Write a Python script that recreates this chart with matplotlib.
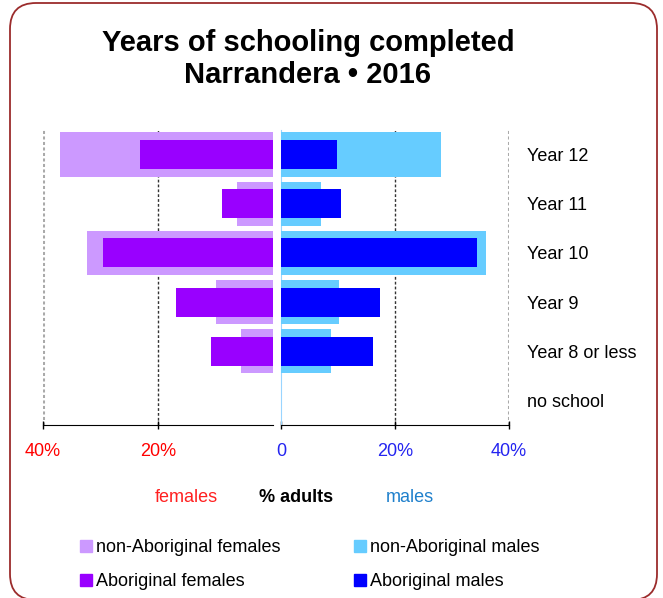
import matplotlib.pyplot as plt
from matplotlib.patches import FancyBboxPatch
from matplotlib.lines import Line2D
from matplotlib.transforms import IdentityTransform

plt.rcParams['font.family'] = ['Liberation Sans', 'DejaVu Sans']

levels = ['Year 12', 'Year 11', 'Year 10', 'Year 9', 'Year 8 or less', 'no school']
# percent of adults
nonab_females = [37.1, 6.3, 32.3, 10.0, 5.6, 0.0]
ab_females = [23.2, 8.9, 29.5, 16.9, 10.7, 0.0]
nonab_males = [28.1, 7.1, 36.0, 10.2, 8.7, 0.0]
ab_males = [9.9, 10.5, 34.4, 17.4, 16.2, 0.0]
ticks = [0, 20, 40]
tick_labels = ['0', '20%', '40%']

c_nf = '#cc99ff'
c_af = '#9900ff'
c_nm = '#66ccff'
c_am = '#0000ff'

W, H = 663, 598
fig = plt.figure(figsize=(W / 100, H / 100), dpi=100)

# rounded frame around the whole chart, in pixels
frame = FancyBboxPatch((10, -2), 647, H - 3 + 2,
                       boxstyle='round,pad=0,rounding_size=26',
                       transform=IdentityTransform(), fill=False,
                       edgecolor='#9b2c2c', lw=1.3)
fig.add_artist(frame)

bottom = (H - 425) / H
height = 295 / H
ax_f = fig.add_axes([43 / W, bottom, 230 / W, height])
ax_m = fig.add_axes([281 / W, bottom, 228 / W, height])

y = list(range(len(levels)))

ax_f.barh(y, [-v for v in nonab_females], height=0.9, color=c_nf, lw=0, zorder=3)
ax_f.barh(y, [-v for v in ab_females], height=0.59, color=c_af, lw=0, zorder=4)
ax_m.barh(y, nonab_males, height=0.9, color=c_nm, lw=0, zorder=3)
ax_m.barh(y, ab_males, height=0.59, color=c_am, lw=0, zorder=4)

for ax, sign in ((ax_f, -1), (ax_m, 1)):
    ax.set_ylim(len(levels) - 0.5, -0.5)
    ax.axvline(sign * 20, color='#333333', lw=1, ls=(0, (2, 1.5)), zorder=1)
    ax.axvline(sign * 40, color='#aaaaaa', lw=2.2, ls=(0, (1, 0.8)), zorder=1)
    ax.spines['top'].set_visible(False)
    ax.spines['bottom'].set_color('black')
    ax.tick_params(axis='x', direction='inout', length=6, width=1,
                   labelsize=13, pad=10)
    ax.tick_params(axis='y', length=0)

ax_f.set_xlim(-40, 0)
ax_f.set_xticks([-40, -20])
ax_f.set_xticklabels(['40%', '20%'])
ax_f.tick_params(axis='x', labelcolor='#ff0000')
ax_f.spines['left'].set_visible(False)
ax_f.spines['right'].set_visible(False)
ax_f.set_yticks([])

ax_m.set_xlim(0, 40)
ax_m.set_xticks(ticks)
ax_m.set_xticklabels(tick_labels)
ax_m.tick_params(axis='x', labelcolor='#2424f0')
ax_m.spines['right'].set_visible(False)
ax_m.spines['left'].set_color('#99d5ff')
ax_m.yaxis.tick_right()
ax_m.set_yticks(y)
ax_m.set_yticklabels(levels, fontsize=13)
ax_m.tick_params(axis='y', pad=13)
for lbl in ax_m.get_yticklabels():
    lbl.set_horizontalalignment('left')

# title
fig.text(308 / W, 1 - 59 / H, 'Years of schooling completed\nNarrandera \u2022 2016',
         ha='center', va='center', fontsize=21, fontweight='bold',
         linespacing=1.22)

# axis captions
fig.text(186 / W, 1 - 497 / H, 'females', ha='center', va='center',
         fontsize=13, color='#ff2020')
fig.text(296 / W, 1 - 497 / H, '% adults', ha='center', va='center',
         fontsize=13, fontweight='bold', color='black')
fig.text(410 / W, 1 - 497 / H, 'males', ha='center', va='center',
         fontsize=13, color='#1f80cc')

handles = [
    Line2D([], [], marker='s', ls='none', markersize=8, color=c_nf),
    Line2D([], [], marker='s', ls='none', markersize=8, color=c_af),
    Line2D([], [], marker='s', ls='none', markersize=8, color=c_nm),
    Line2D([], [], marker='s', ls='none', markersize=8, color=c_am),
]
labels = ['non-Aboriginal females', 'Aboriginal females',
          'non-Aboriginal males', 'Aboriginal males']
fig.legend(handles, labels, ncol=2, loc='upper left',
           bbox_to_anchor=(72 / W, 1 - 530 / H), frameon=False,
           fontsize=13, handlelength=0.6, handletextpad=0.25,
           columnspacing=4.1, labelspacing=0.95, borderpad=0)

fig.savefig('out.png', dpi=100)
